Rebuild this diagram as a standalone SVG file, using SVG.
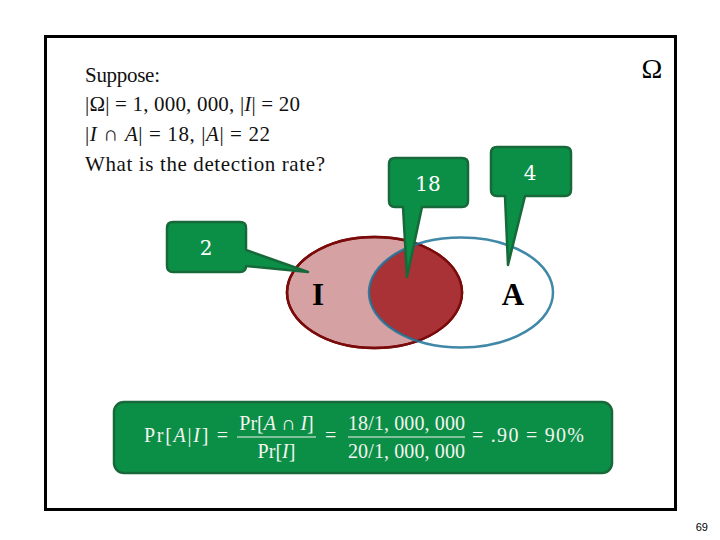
<svg xmlns="http://www.w3.org/2000/svg" width="720" height="540" viewBox="0 0 720 540">
<style>
.q{font-family:"Liberation Serif","DejaVu Serif",serif;font-size:21px;fill:#111}
.call{fill:#0b8f47;stroke:#17693a;stroke-width:2.5;stroke-linejoin:round}
.ct{font-family:"DejaVu Serif","Liberation Serif",serif;font-size:20px;fill:#fff;text-anchor:middle}
.f{font-family:"Liberation Serif","DejaVu Serif",serif;font-size:20px;fill:#f4f4f0}
.lbl{font-family:"Liberation Serif","DejaVu Serif",serif;font-size:31px;font-weight:bold;fill:#000;text-anchor:middle}
</style>
<defs>
<clipPath id="clipA"><ellipse cx="461" cy="292.5" rx="92" ry="55"/></clipPath>
</defs>
<rect width="720" height="540" fill="#fff"/>
<rect id="frame" x="45.5" y="36.5" width="630" height="473" fill="none" stroke="#000" stroke-width="3"/>
<g id="question">
<text class="q" x="85" y="82" textLength="75" lengthAdjust="spacing">Suppose:</text>
<text class="q" x="85" y="111" textLength="215" lengthAdjust="spacing">|Ω| = 1, 000, 000, |<tspan font-style="italic">I</tspan>| = 20</text>
<text class="q" x="85" y="141" textLength="185" lengthAdjust="spacing">|<tspan font-style="italic">I</tspan> ∩ <tspan font-style="italic">A</tspan>| = 18, |<tspan font-style="italic">A</tspan>| = 22</text>
<text class="q" x="85" y="171" textLength="240" lengthAdjust="spacing">What is the detection rate?</text>
</g>
<g id="omega"><text x="652" y="78" font-family="Liberation Serif,DejaVu Serif,serif" font-size="28" text-anchor="middle">Ω</text></g>
<g id="setI">
<ellipse cx="374.5" cy="292.5" rx="87.5" ry="55.5" fill="#d6a1a3" stroke="#7b0b0b" stroke-width="2.5"/>
<ellipse cx="374.5" cy="292.5" rx="87.5" ry="55.5" fill="#a83236" clip-path="url(#clipA)"/>
<ellipse cx="374.5" cy="292.5" rx="87.5" ry="55.5" fill="none" stroke="#7b0b0b" stroke-width="2.5"/>
<text class="lbl" x="318" y="305">I</text>
</g>
<g id="setA">
<ellipse cx="461" cy="292.5" rx="92" ry="55" fill="none" stroke="#1e7399" stroke-width="2.5" stroke-opacity="0.85"/>
<text class="lbl" x="513" y="305">A</text>
</g>
<g id="connectors">
<path id="call18" class="call" d="M395,158 H462 Q468,158 468,164 V201 Q468,207 462,207 H422 L407,277 L403,207 H395 Q389,207 389,201 V164 Q389,158 395,158 Z"/>
<path id="call4" class="call" d="M497,147 H565 Q571,147 571,153 V190 Q571,196 565,196 H525 L508,265 L505,196 H497 Q491,196 491,190 V153 Q491,147 497,147 Z"/>
<path id="call2" class="call" d="M173,222 H240 Q246,222 246,228 V250 L308,272 L246,266 Q246,272 240,272 H173 Q167,272 167,266 V228 Q167,222 173,222 Z"/>
</g>
<g id="label18"><text class="ct" x="428" y="191">18</text></g>
<g id="label4"><text class="ct" x="530" y="180">4</text></g>
<g id="label2"><text class="ct" x="206" y="255">2</text></g>
<g id="formula">
<rect x="114" y="402" width="498" height="71" rx="10" fill="#0b8f47" stroke="#17693a" stroke-width="2.5"/>
<text class="f" x="144" y="442" textLength="84" lengthAdjust="spacing">Pr[<tspan font-style="italic">A</tspan>|<tspan font-style="italic">I</tspan>] =</text>
<text class="f" x="276.5" y="430" text-anchor="middle">Pr[<tspan font-style="italic">A</tspan> ∩ <tspan font-style="italic">I</tspan>]</text>
<line x1="237" y1="437" x2="316" y2="437" stroke="#f4f4f0" stroke-width="1.2"/>
<text class="f" x="276.5" y="458" text-anchor="middle">Pr[<tspan font-style="italic">I</tspan>]</text>
<text class="f" x="325" y="442">=</text>
<text class="f" x="406.5" y="430" text-anchor="middle" textLength="117" lengthAdjust="spacing">18/1, 000, 000</text>
<line x1="348" y1="437" x2="465" y2="437" stroke="#f4f4f0" stroke-width="1.2"/>
<text class="f" x="406.5" y="458" text-anchor="middle" textLength="117" lengthAdjust="spacing">20/1, 000, 000</text>
<text class="f" x="472" y="442" textLength="112" lengthAdjust="spacing">= .90 = 90%</text>
</g>
<g id="pagenum"><text x="708" y="531" font-family="Liberation Sans,Arial,sans-serif" font-size="11" text-anchor="end">69</text></g>
</svg>
